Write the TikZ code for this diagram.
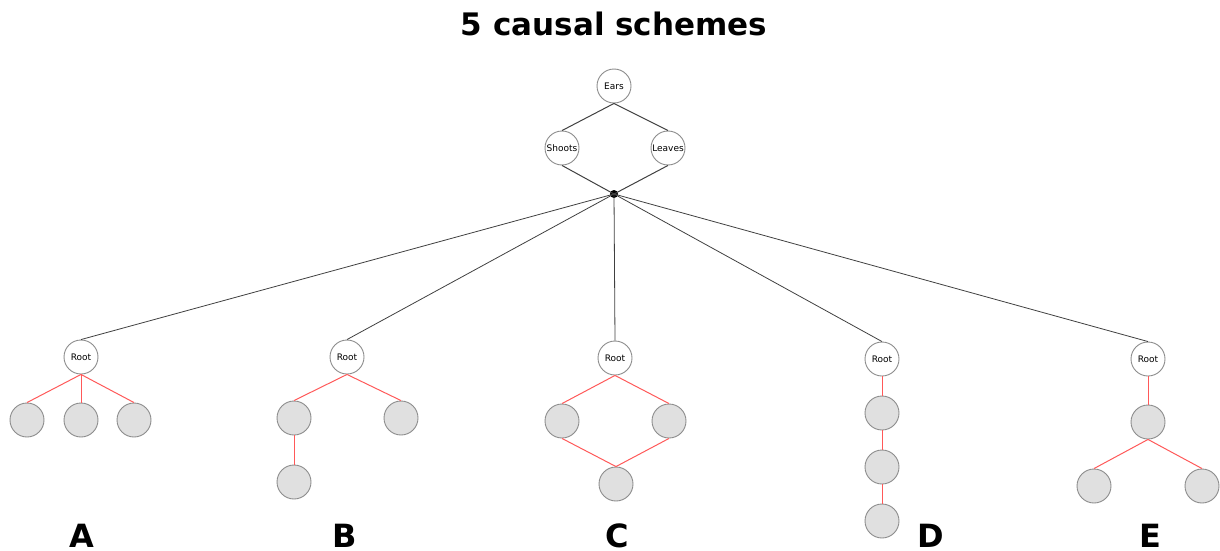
\documentclass[tikz,border=0pt]{standalone}
\usepackage{fontspec}
\setmainfont{DejaVu Sans}
\usetikzlibrary{positioning}

\tikzset{
  var/.style={circle, draw=gray!90, line width=0.9pt, fill=white, minimum size=34pt, inner sep=0pt, font=\fontsize{9}{10}\selectfont},
  hidden/.style={var, fill=black!12},
  upper/.style={draw=black!75, line width=1pt},
  lower/.style={draw=red!65!white, line width=1pt},
  scheme/.style={anchor=base, inner sep=0pt, font=\fontsize{32}{34}\selectfont\bfseries}
}

\begin{document}
\begin{tikzpicture}[x=1pt,y=-1pt]
            \useasboundingbox (0,0) rectangle (1220,551);
            \node[anchor=base, inner sep=0pt, font=\fontsize{31}{34}\selectfont\bfseries] (title) at (614,36) {5 causal schemes};
            % common part
            \node[var] (ears) at (614,86) {Ears};
            \node[var] (shoots) at (562,148) {Shoots};
            \node[var] (leaves) at (668,148) {Leaves};
            \node[circle, fill=black, inner sep=0pt, minimum size=8pt] (hub) at (614,194) {};
            \draw[upper] (ears.south) -- (shoots.north);
            \draw[upper] (ears.south) -- (leaves.north);
            \draw[upper] (shoots.south) -- (hub.center);
            \draw[upper] (leaves.south) -- (hub.center);
            % roots
            \node[var] (rootA) at (81,357) {Root};
            \node[var] (rootB) at (347,357) {Root};
            \node[var] (rootC) at (615,358) {Root};
            \node[var] (rootD) at (882,359) {Root};
            \node[var] (rootE) at (1148,359) {Root};
            \foreach \r in {A,B,C,D,E}
                \draw[upper, line width=0.8pt] (hub.center) -- (root\r.north);
            % scheme A
            \node[hidden] (a1) at (27,420) {};
            \node[hidden] (a2) at (81,420) {};
            \node[hidden] (a3) at (134,420) {};
            \foreach \c in {a1,a2,a3}
                \draw[lower] (rootA.south) -- (\c.north);
            % scheme B
            \node[hidden] (b1) at (294,418) {};
            \node[hidden] (b2) at (401,418) {};
            \node[hidden] (b3) at (294,482) {};
            \draw[lower] (rootB.south) -- (b1.north);
            \draw[lower] (rootB.south) -- (b2.north);
            \draw[lower] (b1.south) -- (b3.north);
            % scheme C
            \node[hidden] (c1) at (562,421) {};
            \node[hidden] (c2) at (669,421) {};
            \node[hidden] (c3) at (616,484) {};
            \draw[lower] (rootC.south) -- (c1.north);
            \draw[lower] (rootC.south) -- (c2.north);
            \draw[lower] (c1.south) -- (c3.north);
            \draw[lower] (c2.south) -- (c3.north);
            % scheme D
            \node[hidden] (d1) at (882,413) {};
            \node[hidden] (d2) at (882,467) {};
            \node[hidden] (d3) at (882,521) {};
            \draw[lower] (rootD.south) -- (d1.north);
            \draw[lower] (d1.south) -- (d2.north);
            \draw[lower] (d2.south) -- (d3.north);
            % scheme E
            \node[hidden] (e1) at (1148,422) {};
            \node[hidden] (e2) at (1094,486) {};
            \node[hidden] (e3) at (1202,486) {};
            \draw[lower] (rootE.south) -- (e1.north);
            \draw[lower] (e1.south) -- (e2.north);
            \draw[lower] (e1.south) -- (e3.north);
            % labels
            \node[scheme] (labA) at (82,547) {A};
            \node[scheme] (labB) at (345,547) {B};
            \node[scheme] (labC) at (617,547) {C};
            \node[scheme] (labD) at (931,547) {D};
            \node[scheme] (labE) at (1150,547) {E};
        \end{tikzpicture}
\end{document}
